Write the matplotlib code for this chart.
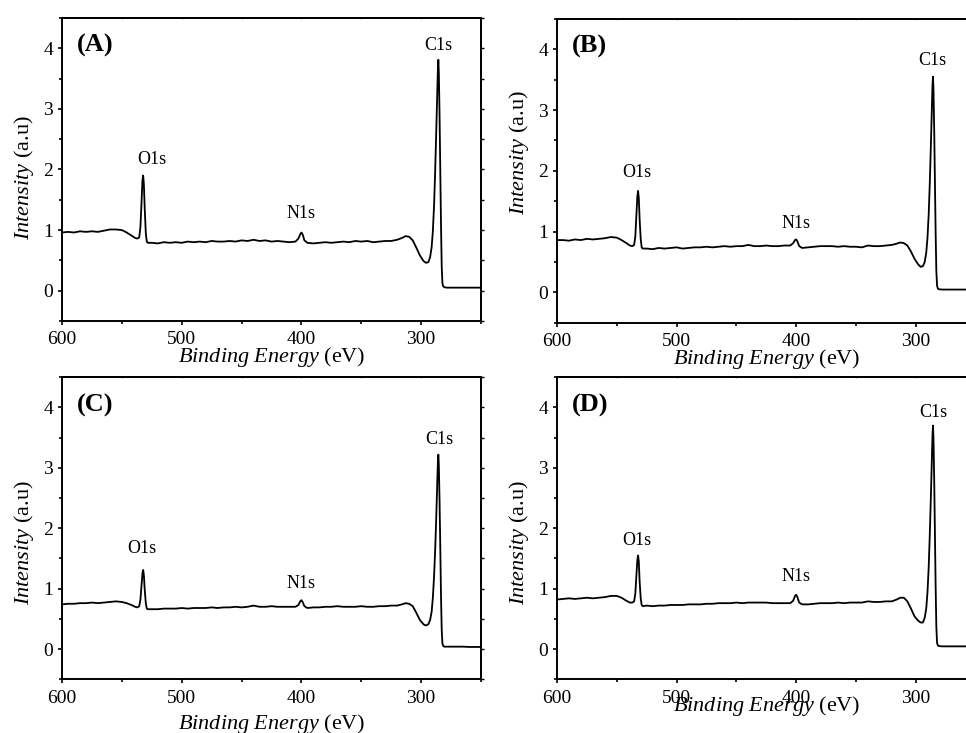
import matplotlib
matplotlib.use("Agg")
import matplotlib.pyplot as plt
from matplotlib.ticker import MultipleLocator, NullFormatter

plt.rcParams['font.family'] = ['Liberation Serif', 'DejaVu Serif']
plt.rcParams['mathtext.fontset'] = 'custom'
plt.rcParams['mathtext.rm'] = 'Liberation Serif'
plt.rcParams['mathtext.it'] = 'Liberation Serif:italic'

# binding energy grid (eV)
energy = [600, 595, 590, 585, 580, 575, 570, 565, 560, 555, 550,
          546, 542, 539, 537, 535.5, 534.5, 533.6, 532.8, 532.2, 531.6, 530.9, 530.0, 529.2, 528.3,
          525, 520, 515, 510, 505, 500, 495, 490, 485, 480, 475, 470, 465, 460, 455, 450, 445, 440,
          435, 430, 425, 420, 415, 410, 405,
          402.5, 401, 400, 399, 397.5,
          395, 390, 385, 380, 375, 370, 365, 360, 355, 350, 345, 340, 335, 330, 325, 320,
          316, 313, 310, 307, 304, 301, 298, 296, 294, 292.5, 291.2, 290.2, 289.2, 288.3,
          287.4, 286.6, 286.0, 285.6, 285.2, 284.6, 284.0, 283.4, 282.8, 282.2, 281.5, 280.5,
          278, 275, 270, 265, 260, 255, 250]

int_a = [0.96, 0.97, 0.96, 0.98, 0.97, 0.98, 0.97, 0.99, 1.01, 1.01, 1.00,
         0.96, 0.91, 0.87, 0.86, 0.88, 1.05, 1.45, 1.82, 1.90, 1.75, 1.35, 0.95, 0.81, 0.79,
         0.79, 0.78, 0.80, 0.79, 0.80, 0.79, 0.81, 0.80, 0.81, 0.80, 0.82, 0.81, 0.81, 0.82, 0.81, 0.83, 0.82, 0.84,
         0.82, 0.83, 0.81, 0.82, 0.81, 0.80, 0.81,
         0.86, 0.93, 0.96, 0.93, 0.83,
         0.79, 0.78, 0.79, 0.80, 0.79, 0.80, 0.81, 0.80, 0.82, 0.81, 0.82, 0.80, 0.81, 0.82, 0.82, 0.84,
         0.87, 0.90, 0.89, 0.83, 0.71, 0.58, 0.49, 0.46, 0.47, 0.55, 0.72, 0.98, 1.40, 1.95,
         2.60, 3.20, 3.65, 3.81, 3.60, 2.90, 2.00, 1.10, 0.40, 0.12, 0.07, 0.055,
         0.05, 0.05, 0.05, 0.05, 0.05, 0.05, 0.05]

int_b = [0.86, 0.86, 0.85, 0.87, 0.86, 0.88, 0.87, 0.88, 0.89, 0.91, 0.90,
         0.86, 0.81, 0.77, 0.76, 0.78, 0.92, 1.28, 1.58, 1.67, 1.55, 1.20, 0.88, 0.74, 0.72,
         0.72, 0.71, 0.73, 0.72, 0.73, 0.74, 0.72, 0.73, 0.74, 0.74, 0.75, 0.74, 0.75, 0.76, 0.75, 0.76, 0.76, 0.78,
         0.76, 0.76, 0.77, 0.76, 0.76, 0.77, 0.77,
         0.81, 0.86, 0.87, 0.84, 0.76,
         0.73, 0.74, 0.75, 0.76, 0.76, 0.76, 0.75, 0.76, 0.75, 0.75, 0.74, 0.77, 0.76, 0.76, 0.77, 0.78,
         0.80, 0.82, 0.81, 0.77, 0.67, 0.55, 0.46, 0.42, 0.43, 0.50, 0.66, 0.90, 1.28, 1.78,
         2.40, 2.98, 3.42, 3.55, 3.35, 2.70, 1.85, 1.00, 0.35, 0.11, 0.06, 0.05,
         0.045, 0.045, 0.045, 0.045, 0.045, 0.045, 0.045]

int_c = [0.74, 0.75, 0.75, 0.76, 0.76, 0.77, 0.76, 0.77, 0.78, 0.79, 0.78,
         0.76, 0.73, 0.70, 0.69, 0.71, 0.82, 1.05, 1.25, 1.31, 1.22, 0.98, 0.76, 0.67, 0.66,
         0.66, 0.66, 0.67, 0.67, 0.67, 0.68, 0.67, 0.68, 0.68, 0.68, 0.69, 0.68, 0.69, 0.69, 0.70, 0.69, 0.70, 0.72,
         0.70, 0.70, 0.71, 0.70, 0.70, 0.70, 0.70,
         0.73, 0.79, 0.81, 0.78, 0.71,
         0.68, 0.69, 0.69, 0.70, 0.70, 0.71, 0.70, 0.70, 0.70, 0.71, 0.70, 0.70, 0.71, 0.71, 0.72, 0.72,
         0.74, 0.76, 0.75, 0.71, 0.60, 0.48, 0.41, 0.39, 0.41, 0.48, 0.62, 0.85, 1.20, 1.62,
         2.15, 2.70, 3.10, 3.22, 3.05, 2.45, 1.70, 0.90, 0.32, 0.09, 0.05, 0.04,
         0.04, 0.04, 0.04, 0.04, 0.035, 0.035, 0.035]

int_d = [0.82, 0.83, 0.84, 0.83, 0.84, 0.85, 0.84, 0.85, 0.86, 0.88, 0.88,
         0.85, 0.80, 0.77, 0.77, 0.79, 0.92, 1.22, 1.48, 1.55, 1.45, 1.12, 0.84, 0.73, 0.71,
         0.72, 0.71, 0.72, 0.72, 0.73, 0.73, 0.73, 0.74, 0.74, 0.74, 0.75, 0.75, 0.76, 0.76, 0.76, 0.77, 0.76, 0.77,
         0.77, 0.77, 0.77, 0.76, 0.76, 0.76, 0.76,
         0.80, 0.88, 0.90, 0.86, 0.77,
         0.74, 0.74, 0.75, 0.76, 0.76, 0.76, 0.77, 0.76, 0.77, 0.77, 0.77, 0.79, 0.78, 0.78, 0.79, 0.79,
         0.82, 0.85, 0.85, 0.79, 0.67, 0.54, 0.47, 0.44, 0.44, 0.52, 0.68, 0.94, 1.35, 1.88,
         2.50, 3.10, 3.55, 3.70, 3.50, 2.82, 1.95, 1.05, 0.37, 0.10, 0.06, 0.05,
         0.045, 0.045, 0.045, 0.045, 0.045, 0.045, 0.045]

panel_names = ['(A)', '(B)', '(C)', '(D)']
spectra = [int_a, int_b, int_c, int_d]
peak_names = ['O1s', 'N1s', 'C1s']

# label anchor points (energy, intensity) for each panel
peak_label_pos = [
    [(525, 2.16), (400, 1.28), (286, 4.04)],
    [(533, 1.98), (400, 1.14), (286, 3.82)],
    [(533, 1.66), (400, 1.09), (284.5, 3.47)],
    [(533, 1.79), (400, 1.20), (285.5, 3.92)],
]

# axes rectangles in figure fraction
rects = [
    [0.0642, 0.5621, 0.4337, 0.4134],
    [0.5766, 0.5598, 0.4333, 0.4143],
    [0.0642, 0.0733, 0.4337, 0.4120],
    [0.5766, 0.0733, 0.4333, 0.4120],
]
# axis label positions (axes fraction) as they sit in the original
xlabel_y = [-0.079, -0.079, -0.108, -0.05]
ylabel_y = [0.472, 0.56, 0.453, 0.453]

fig = plt.figure(figsize=(9.66, 7.33), dpi=100)

for i in range(4):
    ax = fig.add_axes(rects[i])
    ax.plot(energy, spectra[i], color='black', lw=1.3)
    ax.set_xlim(600, 250)
    ax.set_ylim(-0.5, 4.5)
    ax.xaxis.set_major_locator(MultipleLocator(100))
    ax.xaxis.set_minor_locator(MultipleLocator(50))
    ax.yaxis.set_major_locator(MultipleLocator(1))
    ax.yaxis.set_minor_locator(MultipleLocator(0.5))
    for s in ax.spines.values():
        s.set_linewidth(1.4)
    ax.tick_params(which='both', direction='out', width=1.2, labelsize=14)
    ax.tick_params(which='major', length=3)
    ax.tick_params(which='minor', length=2)
    ax.tick_params(axis='x', pad=4.5)
    ax.tick_params(axis='y', pad=3.5)

    # faint ticks on top, short outward ticks on right
    top = ax.secondary_xaxis('top')
    top.xaxis.set_major_locator(MultipleLocator(50))
    top.xaxis.set_major_formatter(NullFormatter())
    top.tick_params(direction='inout', length=2, width=0.8, color='#999999')
    top.spines['top'].set_linewidth(1.4)
    right = ax.secondary_yaxis('right')
    right.yaxis.set_major_locator(MultipleLocator(0.5))
    right.yaxis.set_major_formatter(NullFormatter())
    right.tick_params(direction='out', length=2, width=1.0)
    right.spines['right'].set_linewidth(1.4)

    ax.set_xlabel(r'$\mathit{Binding\ Energy}$ (eV)', fontsize=16)
    ax.xaxis.set_label_coords(0.5, xlabel_y[i])
    ax.set_ylabel(r'$\mathit{Intensity}$ (a.u)', fontsize=16)
    ax.yaxis.set_label_coords(-0.063, ylabel_y[i])

    ax.text(0.036, 0.908, panel_names[i], transform=ax.transAxes,
            fontsize=19, fontweight='bold', va='center', ha='left')
    for name, (px, py) in zip(peak_names, peak_label_pos[i]):
        ax.text(px, py, name, fontsize=13, ha='center', va='center')

fig.savefig('out.png', dpi=100)
